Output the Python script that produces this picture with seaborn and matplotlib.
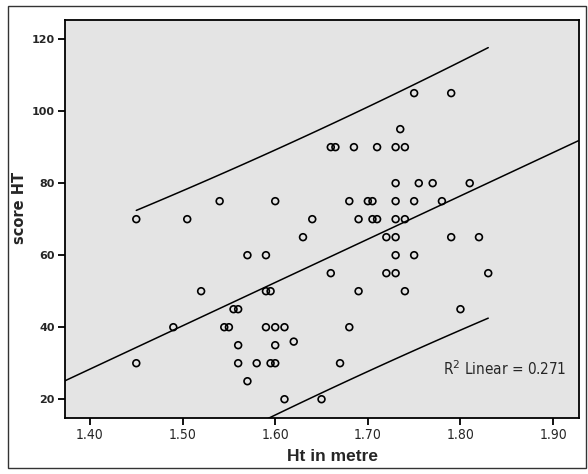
import numpy as np
import pandas as pd
import seaborn as sns
import matplotlib.pyplot as plt
from matplotlib.patches import Rectangle

sns.set_style("ticks")
plt.rcParams['font.family'] = ['Liberation Sans', 'DejaVu Sans']

# height (m) and score
ht = [1.45, 1.505, 1.54, 1.66, 1.665, 1.685, 1.71, 1.73, 1.74, 1.735,
      1.75, 1.79, 1.73, 1.755, 1.77, 1.81, 1.60, 1.68, 1.70, 1.705,
      1.73, 1.75, 1.78, 1.64, 1.69, 1.705, 1.71, 1.73, 1.74, 1.63,
      1.72, 1.73, 1.79, 1.82, 1.57, 1.59, 1.73, 1.75, 1.66, 1.72,
      1.73, 1.83, 1.52, 1.59, 1.595, 1.69, 1.74, 1.555, 1.56, 1.80,
      1.49, 1.545, 1.55, 1.59, 1.60, 1.61, 1.68, 1.56, 1.60, 1.62,
      1.45, 1.56, 1.58, 1.595, 1.60, 1.67, 1.57, 1.61, 1.65]
score = [70, 70, 75, 90, 90, 90, 90, 90, 90, 95,
         105, 105, 80, 80, 80, 80, 75, 75, 75, 75,
         75, 75, 75, 70, 70, 70, 70, 70, 70, 65,
         65, 65, 65, 65, 60, 60, 60, 60, 55, 55,
         55, 55, 50, 50, 50, 50, 50, 45, 45, 45,
         40, 40, 40, 40, 40, 40, 40, 35, 35, 36,
         30, 30, 30, 30, 30, 30, 25, 20, 20]
xticks = [1.40, 1.50, 1.60, 1.70, 1.80, 1.90]
yticks = [20, 40, 60, 80, 100, 120]
r2_text = "R$^2$ Linear = 0.271"

df = pd.DataFrame({"ht": ht, "score": score})

fig = plt.figure(figsize=(5.88, 4.74), dpi=100)
ax = fig.add_axes([0.1097, 0.1175, 0.875, 0.841])
ax.set_facecolor("#e4e4e4")
fig.patches.append(Rectangle((8 / 588, 6 / 474), 578 / 588, 462 / 474,
                             transform=fig.transFigure, fill=False,
                             edgecolor="#333333", linewidth=1.0))

xlim = (1.3725, 1.928)
ylim = (14.7, 125.4)

# OLS fit + 95% prediction interval for individuals
x = df.ht.values
y = df.score.values
n = len(x)
b, a = np.polyfit(x, y, 1)
resid = y - (a + b * x)
s = np.sqrt((resid ** 2).sum() / (n - 2))
t = 1.995
sxx = ((x - x.mean()) ** 2).sum()

xf = np.array(xlim)
ax.plot(xf, a + b * xf, color="black", linewidth=1.1)
xp = np.linspace(x.min(), x.max(), 50)
half = t * s * np.sqrt(1 + 1 / n + (xp - x.mean()) ** 2 / sxx)
ax.plot(xp, a + b * xp + half, color="black", linewidth=1.1)
ax.plot(xp, a + b * xp - half, color="black", linewidth=1.1)

sns.scatterplot(data=df, x="ht", y="score", ax=ax, marker="o", s=24,
                facecolor="none", edgecolor="black", linewidth=1.2, zorder=3)

narrow = dict(family="DejaVu Sans", stretch="condensed")
ax.set_xlim(xlim)
ax.set_ylim(ylim)
ax.set_xticks(xticks)
ax.set_xticklabels([f"{v:.2f}" for v in xticks], fontsize=10, **narrow)
ax.set_yticks(yticks)
ax.set_yticklabels([str(v) for v in yticks], fontsize=8, fontweight="bold",
                   family="DejaVu Sans")
ax.tick_params(direction="out", length=5, width=1.3, color="black", pad=2)
for sp in ax.spines.values():
    sp.set_visible(True)
    sp.set_color("black")
    sp.set_linewidth(1.3)

ax.set_xlabel("Ht in metre", fontsize=12.5, fontweight="bold")
ax.xaxis.set_label_coords(0.521, -0.077)
ax.set_ylabel("score HT", fontsize=10.5, fontweight="bold", family="DejaVu Sans")
ax.yaxis.set_label_coords(-0.072, 0.528)
ax.text(1.914, 28.4, r2_text, ha="right", va="center", fontsize=11, **narrow)

fig.savefig("out.png", dpi=100)
